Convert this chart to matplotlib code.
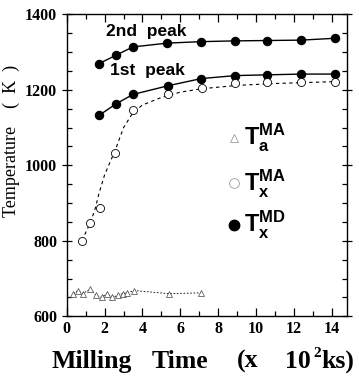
import matplotlib.pyplot as plt
from matplotlib.ticker import MultipleLocator

# milling time in 10^2 ks, temperatures in K
peak2_x = [1.72, 2.6, 3.5, 5.3, 7.1, 8.9, 10.6, 12.4, 14.2]
peak2_T = [1270, 1292, 1314, 1324, 1328, 1330, 1331, 1332, 1337]

peak1_x = [1.72, 2.6, 3.5, 5.35, 7.1, 8.9, 10.6, 12.4, 14.2]
peak1_T = [1133, 1163, 1188, 1211, 1230, 1238, 1240, 1242, 1242]

txma_x = [0.82, 1.25, 1.78, 2.56, 3.5, 5.35, 7.15, 8.9, 10.6, 12.4, 14.2]
txma_T = [800, 848, 887, 1032, 1148, 1188, 1204, 1218, 1220, 1221, 1221]

# hand-drawn guide curve through the open circles
txma_fit_x = [0.82, 1.0, 1.25, 1.5, 1.7, 2.0, 2.3, 2.56, 3.0, 3.5, 4.0, 5.0, 6.0,
              7.1, 9.0, 11.0, 14.2]
txma_fit_T = [800, 822, 848, 885, 925, 975, 1010, 1040, 1100, 1140, 1160, 1180,
              1194, 1203, 1212, 1217, 1222]

ta_x = [0.35, 0.6, 0.85, 1.25, 1.55, 1.85, 2.1, 2.4, 2.7, 2.95, 3.2, 3.55, 5.4, 7.1]
ta_T = [660, 668, 660, 672, 655, 650, 660, 650, 655, 660, 662, 668, 660, 662]

xlabel_words = ["Milling", "Time", "(x", "10", "ks)"]
xlabel_left_px = [52, 152, 237, 285, 321]

serif = "Liberation Serif"
sans = "Liberation Sans"
plt.rcParams["mathtext.fontset"] = "custom"
plt.rcParams["mathtext.bf"] = "Liberation Sans:bold"
plt.rcParams["mathtext.rm"] = "Liberation Sans:bold"

W, H = 359, 381
fig = plt.figure(figsize=(W / 100, H / 100), dpi=100)
ax = fig.add_axes([0.186, 0.170, 0.780, 0.792])

ax.plot(peak2_x, peak2_T, "-", color="black", lw=1.0, marker="o", ms=5.8,
        mfc="black", mec="black")
ax.plot(peak1_x, peak1_T, "-", color="black", lw=1.0, marker="o", ms=5.8,
        mfc="black", mec="black")
ax.plot(txma_fit_x, txma_fit_T, color="black", lw=0.8, ls=(0, (3, 3)))
ax.plot(txma_x, txma_T, "o", ms=5.8, mfc="white", mec="black", mew=0.6)
ax.plot(ta_x, ta_T, color="black", lw=0.6, ls=(0, (2, 2)), marker="^", ms=4,
        mfc="white", mec="#444444", mew=0.5)

ax.text(2.05, 1355, "2nd  peak", fontfamily=sans, fontweight="bold", fontsize=12.5,
        va="center")
ax.text(2.3, 1252, "1st  peak", fontfamily=sans, fontweight="bold", fontsize=12.5,
        va="center")

# legend drawn by hand
ax.plot([8.85], [1073], "^", ms=6, mfc="white", mec="#888888", mew=0.5)
ax.plot([8.85], [952], "o", ms=7, mfc="white", mec="#888888", mew=0.5)
ax.plot([8.85], [842], "o", ms=7.5, mfc="black", mec="black")
ax.text(9.35, 1073, r"$\mathbf{T}_{\mathbf{a}}^{\mathbf{MA}}$", fontsize=17, va="center")
ax.text(9.35, 952, r"$\mathbf{T}_{\mathbf{x}}^{\mathbf{MA}}$", fontsize=17, va="center")
ax.text(9.35, 842, r"$\mathbf{T}_{\mathbf{x}}^{\mathbf{MD}}$", fontsize=17, va="center")

ax.set_xlim(0, 14.8)
ax.set_ylim(600, 1400)
ax.xaxis.set_major_locator(MultipleLocator(2))
ax.xaxis.set_minor_locator(MultipleLocator(1))
ax.yaxis.set_major_locator(MultipleLocator(200))
ax.yaxis.set_minor_locator(MultipleLocator(50))
ax.tick_params(axis="x", which="both", direction="in", top=True, width=0.9)
ax.tick_params(axis="x", which="major", length=6)
ax.tick_params(axis="x", which="minor", length=3.5)
ax.tick_params(axis="y", which="major", direction="inout", length=7, right=True, width=0.9)
ax.tick_params(axis="y", which="minor", direction="in", length=3.5, right=True, width=0.9)
for lab in ax.get_xticklabels() + ax.get_yticklabels():
    lab.set_fontfamily(serif)
    lab.set_fontweight("bold")
    lab.set_fontsize(11.5)
for s in ax.spines.values():
    s.set_linewidth(1.0)

ax.set_ylabel("Temperature    (  K  )", fontfamily=serif, fontsize=13)
ax.yaxis.set_label_coords(-0.168, 0.58)

base = 1 - 368 / H
for word, left in zip(xlabel_words, xlabel_left_px):
    fig.text(left / W, base, word, fontfamily=serif, fontweight="bold",
             fontsize=18.5, ha="left", va="baseline")
fig.text(313 / W, 1 - 357 / H, "2", fontfamily=serif, fontweight="bold",
         fontsize=11, ha="left", va="baseline")

fig.savefig("out.png", dpi=100)
